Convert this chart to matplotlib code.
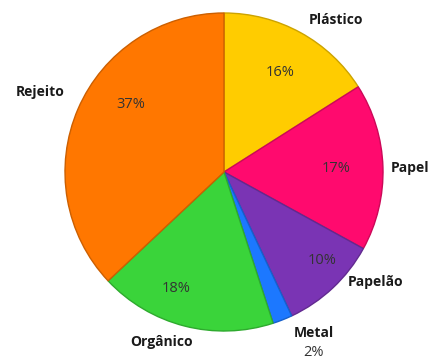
import matplotlib
matplotlib.use("Agg")
import matplotlib.pyplot as plt
import matplotlib.colors as mcolors

categories = ["Plástico", "Papel", "Papelão", "Metal", "Orgânico", "Rejeito"]
values = [16, 17, 10, 2, 18, 37]
colors = ["#FFCC00", "#FF0A6E", "#7A34B4", "#1C78FF", "#3AD43A", "#FF7700"]

# layout (pixel positions in a 434x361 canvas, y measured from top)
center = (224, 172)
radius = 159
label_pos = [(336, 20), (410, 168), (376, 282), (314, 333), (162, 342), (40, 92)]
pct_pos = [(280, 73), (336, 168), (322, 260), (314, 353), (176, 289), (131, 105)]

W, H = 434, 361
fig = plt.figure(figsize=(W / 100, H / 100), dpi=100)
ax = fig.add_axes([0, 0, 1, 1])

wedges, texts, autotexts = ax.pie(
    values, colors=colors, startangle=90, counterclock=False,
    center=(center[0], H - center[1]), radius=radius,
    autopct="%d%%", frame=True,
    wedgeprops=dict(linewidth=1.0),
    textprops=dict(fontsize=10.5, color="#333333", family=["Open Sans", "DejaVu Sans"]),
)
ax.set_xlim(0, W)
ax.set_ylim(0, H)
ax.set_aspect("equal")
ax.axis("off")

for w, c in zip(wedges, colors):
    r, g, b = mcolors.to_rgb(c)
    w.set_edgecolor((r * 0.8, g * 0.8, b * 0.8))

for t, (x, y) in zip(autotexts, pct_pos):
    t.set_position((x, H - y))
    t.set_ha("center")
    t.set_va("center")

for name, (x, y) in zip(categories, label_pos):
    ax.text(x, H - y, name, ha="center", va="center", fontsize=10, fontweight="bold",
            color="#1a1a1a", family=["Open Sans", "DejaVu Sans"])

fig.savefig("out.png", dpi=100, facecolor="white")
